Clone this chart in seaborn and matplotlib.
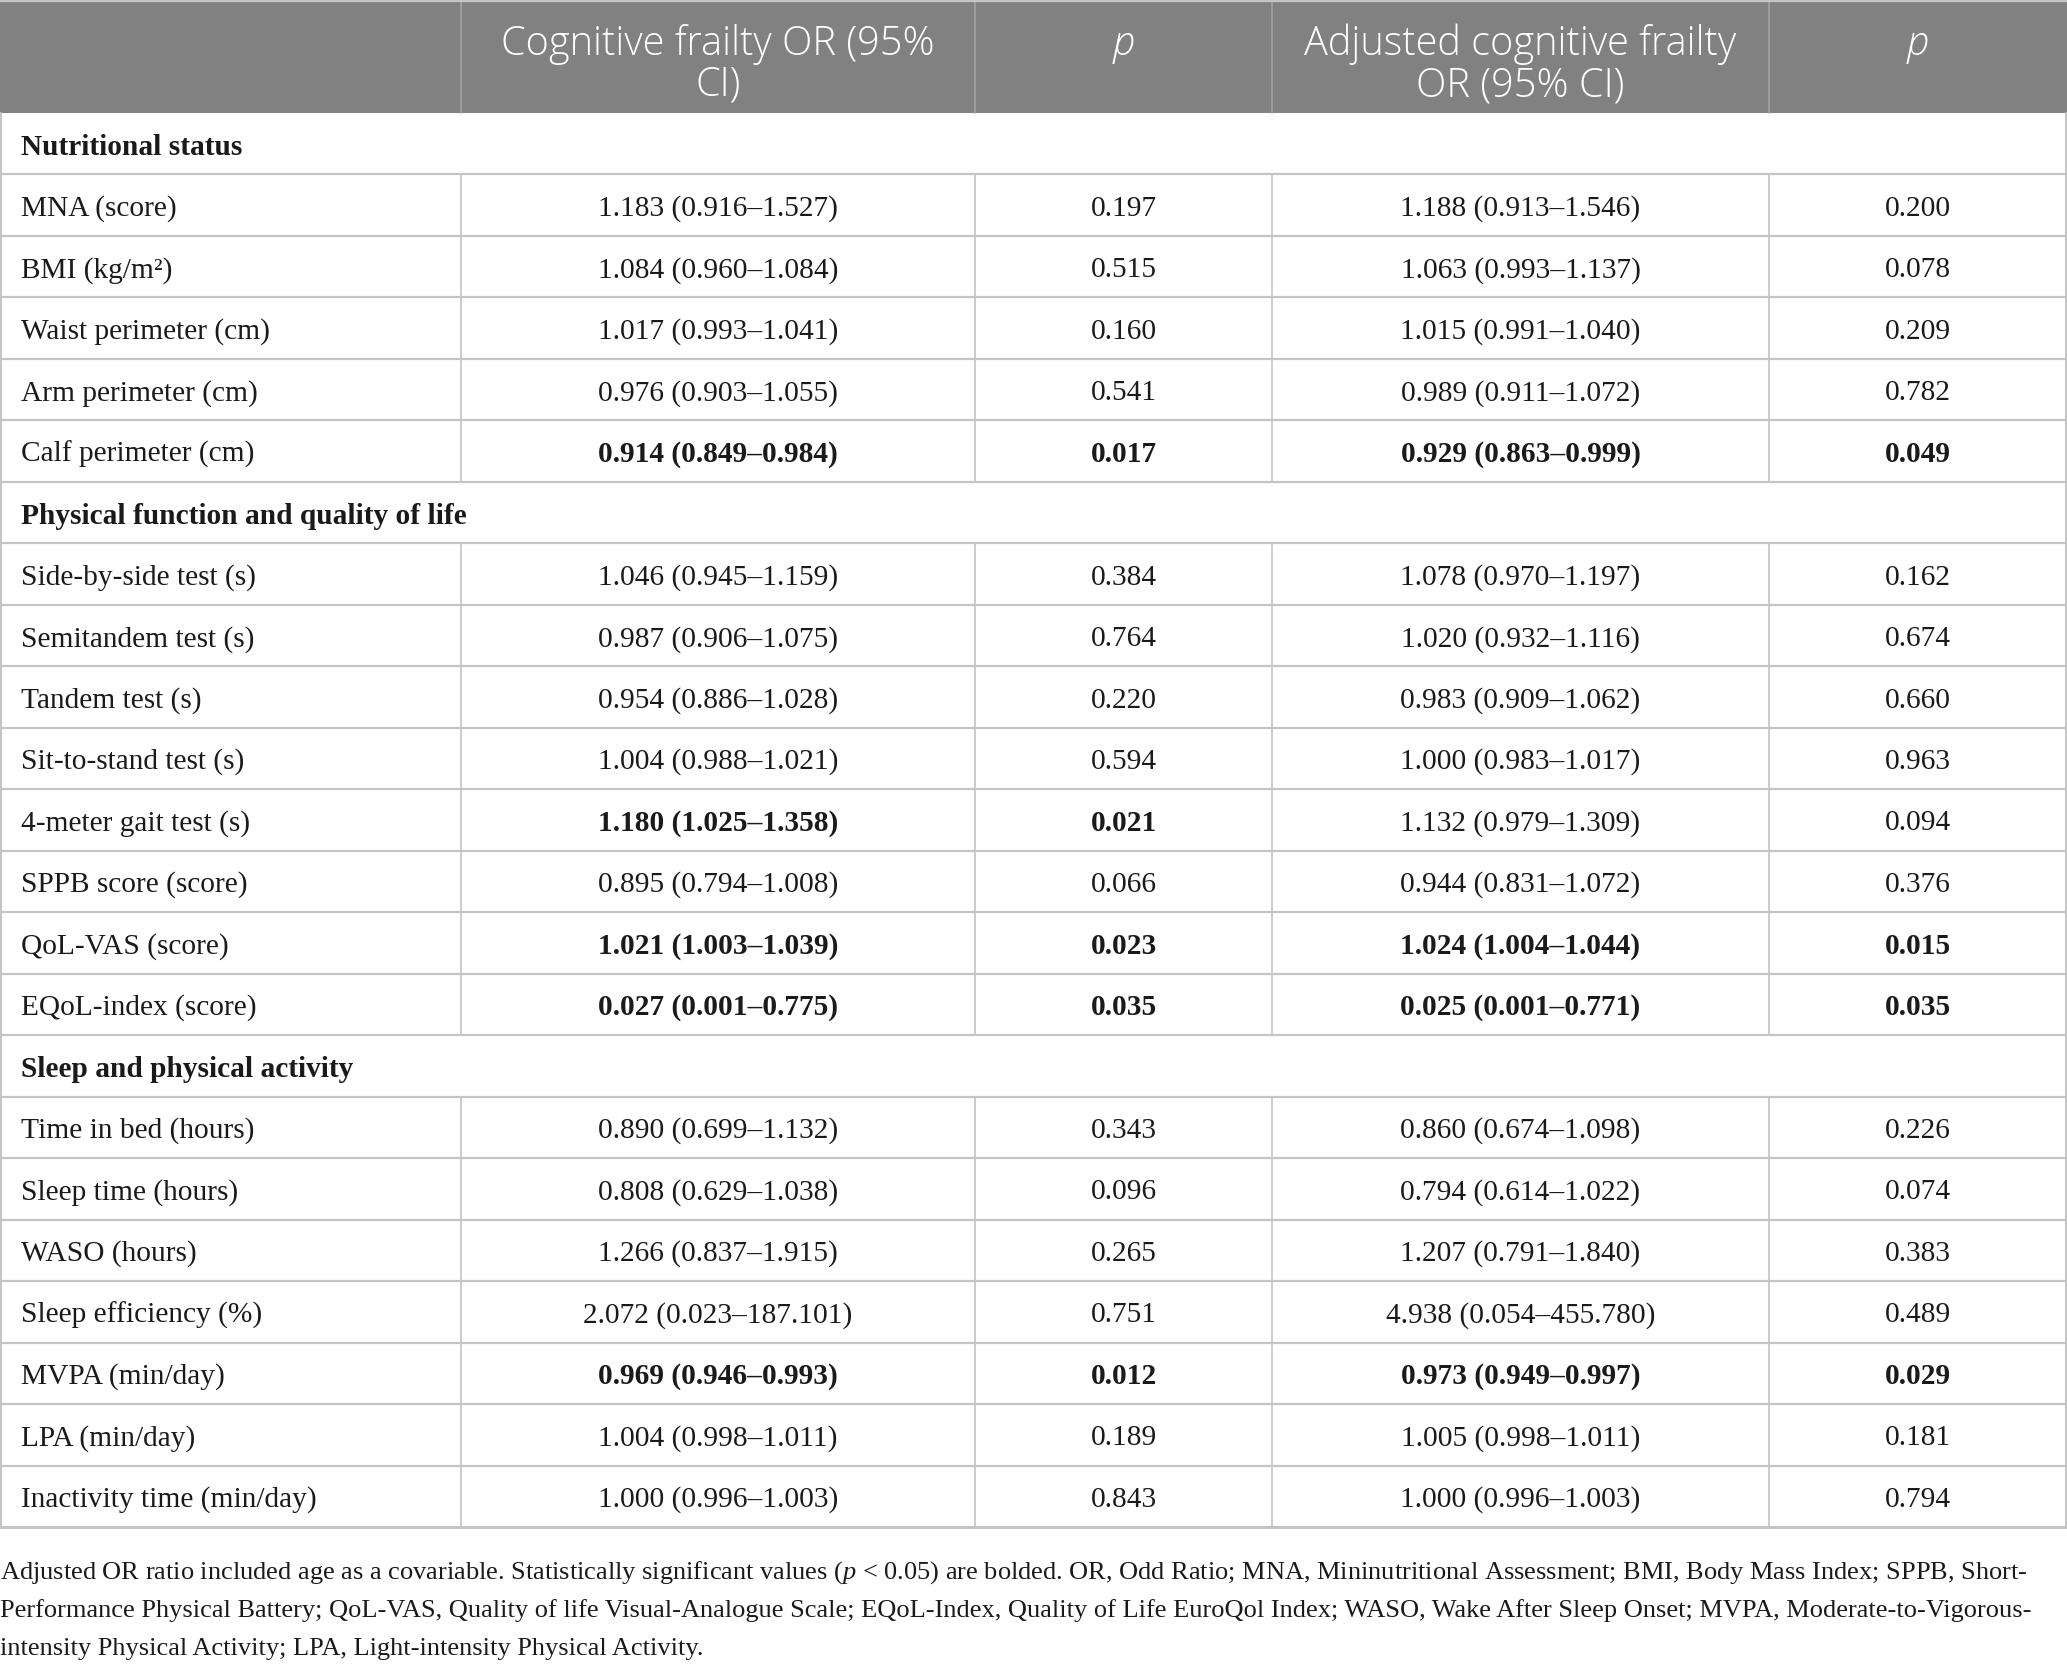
import matplotlib
matplotlib.use("Agg")
import matplotlib.pyplot as plt
import seaborn as sns

# table content
sections = ["Nutritional status",
            "Physical function and quality of life",
            "Sleep and physical activity"]
section_sizes = [5, 8, 7]

variables = ["MNA (score)", "BMI (kg/m\u00b2)", "Waist perimeter (cm)", "Arm perimeter (cm)",
             "Calf perimeter (cm)",
             "Side-by-side test (s)", "Semitandem test (s)", "Tandem test (s)",
             "Sit-to-stand test (s)", "4-meter gait test (s)", "SPPB score (score)",
             "QoL-VAS (score)", "EQoL-index (score)",
             "Time in bed (hours)", "Sleep time (hours)", "WASO (hours)",
             "Sleep efficiency (%)", "MVPA (min/day)", "LPA (min/day)",
             "Inactivity time (min/day)"]

or_ci = ["1.183 (0.916\u20131.527)", "1.084 (0.960\u20131.084)", "1.017 (0.993\u20131.041)",
         "0.976 (0.903\u20131.055)", "0.914 (0.849\u20130.984)",
         "1.046 (0.945\u20131.159)", "0.987 (0.906\u20131.075)", "0.954 (0.886\u20131.028)",
         "1.004 (0.988\u20131.021)", "1.180 (1.025\u20131.358)", "0.895 (0.794\u20131.008)",
         "1.021 (1.003\u20131.039)", "0.027 (0.001\u20130.775)",
         "0.890 (0.699\u20131.132)", "0.808 (0.629\u20131.038)", "1.266 (0.837\u20131.915)",
         "2.072 (0.023\u2013187.101)", "0.969 (0.946\u20130.993)", "1.004 (0.998\u20131.011)",
         "1.000 (0.996\u20131.003)"]
p_val = ["0.197", "0.515", "0.160", "0.541", "0.017",
         "0.384", "0.764", "0.220", "0.594", "0.021", "0.066", "0.023", "0.035",
         "0.343", "0.096", "0.265", "0.751", "0.012", "0.189", "0.843"]
adj_or_ci = ["1.188 (0.913\u20131.546)", "1.063 (0.993\u20131.137)", "1.015 (0.991\u20131.040)",
             "0.989 (0.911\u20131.072)", "0.929 (0.863\u20130.999)",
             "1.078 (0.970\u20131.197)", "1.020 (0.932\u20131.116)", "0.983 (0.909\u20131.062)",
             "1.000 (0.983\u20131.017)", "1.132 (0.979\u20131.309)", "0.944 (0.831\u20131.072)",
             "1.024 (1.004\u20131.044)", "0.025 (0.001\u20130.771)",
             "0.860 (0.674\u20131.098)", "0.794 (0.614\u20131.022)", "1.207 (0.791\u20131.840)",
             "4.938 (0.054\u2013455.780)", "0.973 (0.949\u20130.997)", "1.005 (0.998\u20131.011)",
             "1.000 (0.996\u20131.003)"]
adj_p = ["0.200", "0.078", "0.209", "0.782", "0.049",
         "0.162", "0.674", "0.660", "0.963", "0.094", "0.376", "0.015", "0.035",
         "0.226", "0.074", "0.383", "0.489", "0.029", "0.181", "0.794"]

# significant (p < 0.05) -> bold
crude_sig = [p < 0.05 for p in map(float, p_val)]
adj_sig = [p < 0.05 for p in map(float, adj_p)]

headers = ["", "Cognitive frailty OR (95%\nCI)", "p", "Adjusted cognitive frailty\nOR (95% CI)", "p"]

footnote = [
    "Adjusted OR ratio included age as a covariable. Statistically significant values ($p$ < 0.05) are bolded. "
    "OR, Odd Ratio; MNA, Mininutritional Assessment; BMI, Body Mass Index; SPPB, Short-",
    "Performance Physical Battery; QoL-VAS, Quality of life Visual-Analogue Scale; EQoL-Index, "
    "Quality of Life EuroQol Index; WASO, Wake After Sleep Onset; MVPA, Moderate-to-Vigorous-",
    "intensity Physical Activity; LPA, Light-intensity Physical Activity.",
]

sns.set_theme(style="white")
serif = ["Liberation Serif", "DejaVu Serif"]
plt.rcParams["font.family"] = serif
plt.rcParams["mathtext.fontset"] = "custom"
plt.rcParams["mathtext.rm"] = "Liberation Serif"
plt.rcParams["mathtext.it"] = "Liberation Serif:italic"

W, H = 2067, 1678
fig = plt.figure(figsize=(W / 100, H / 100), dpi=100)
ax = fig.add_axes([0, 0, 1, 1])
ax.set_xlim(0, W)
ax.set_ylim(H, 0)
ax.axis("off")

col_edges = [0, 461, 975, 1272, 1769, 2066]
head_top, head_bot = 1, 113
table_bot = 1527
n_rows = len(sections) + len(variables)
row_h = (table_bot - head_bot) / n_rows

grid_c = "#c4c4c4"
head_bg = "#808180"
body_size = 21.2
txt_c = "#1a1a1a"
dy = 3.5  # nudge text toward the row middle

# header
ax.add_patch(plt.Rectangle((0, head_top), W, head_bot - head_top, color=head_bg, lw=0, zorder=0))
for x in col_edges[1:-1]:
    ax.plot([x, x], [head_top, head_bot], color="#a3a3a3", lw=1.2, zorder=1)
for i, h in enumerate(headers):
    cx = (col_edges[i] + col_edges[i + 1]) / 2
    style = "italic" if h == "p" else "normal"
    cy = 65 if "\n" in h else 44
    ax.text(cx, cy, h, ha="center", va="center", color="white", fontsize=28.6,
            family=["Open Sans", "DejaVu Sans"], weight="light", style=style,
            linespacing=1.0)

# body rows
r = 0
k = 0
for s, n in zip(sections, section_sizes):
    y0 = head_bot + r * row_h
    ax.text(21, y0 + row_h / 2 + dy, s, ha="left", va="center", fontsize=body_size,
            weight="bold", color=txt_c)
    r += 1
    for _ in range(n):
        y0 = head_bot + r * row_h
        yc = y0 + row_h / 2 + dy
        for x in col_edges[1:-1]:
            ax.plot([x, x], [y0, y0 + row_h], color=grid_c, lw=1.2, zorder=1)
        ax.text(21, yc, variables[k], ha="left", va="center", fontsize=body_size, color=txt_c)
        cells = [or_ci[k], p_val[k], adj_or_ci[k], adj_p[k]]
        bolds = [crude_sig[k], crude_sig[k], adj_sig[k], adj_sig[k]]
        for j, (txt, b) in enumerate(zip(cells, bolds)):
            cx = (col_edges[j + 1] + col_edges[j + 2]) / 2
            ax.text(cx, yc, txt, ha="center", va="center", fontsize=body_size,
                    weight="bold" if b else "normal", color=txt_c)
        r += 1
        k += 1

for i in range(1, n_rows + 1):
    y = head_bot + i * row_h
    ax.plot([0, W], [y, y], color=grid_c, lw=1.6 if i < n_rows else 2.2, zorder=1)
ax.plot([0, W], [head_top, head_top], color=grid_c, lw=1.6, zorder=1)
for x in (0.6, W - 1.2):
    ax.plot([x, x], [head_bot, table_bot], color=grid_c, lw=1.4, zorder=1)

# footnote
for i, line in enumerate(footnote):
    ax.text(0, 1573 + i * 38, line, ha="left", va="center", fontsize=19.0, color=txt_c)

fig.savefig("out.png", dpi=100)
